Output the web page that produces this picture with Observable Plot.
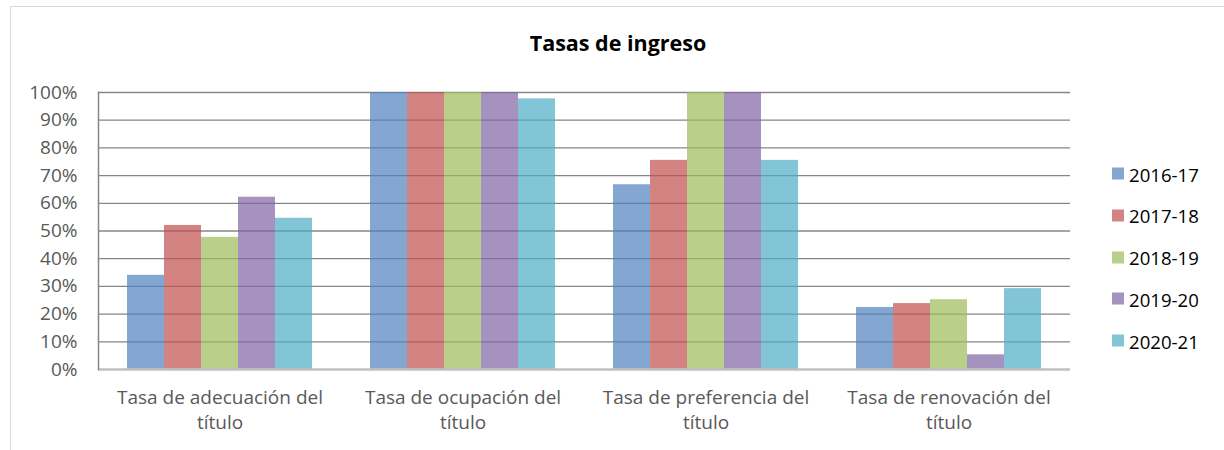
<!DOCTYPE html>
<html><head><meta charset="utf-8">
<script src="https://cdn.jsdelivr.net/npm/d3@7"></script>
<script src="https://cdn.jsdelivr.net/npm/@observablehq/plot@0.6"></script>
<style>
body{margin:0;background:#fff;font-family:"Open Sans",sans-serif}
#wrap{position:relative;width:1224px;height:450px;overflow:hidden;background:#fff}
#border{position:absolute;left:10px;top:6px;width:1300px;height:500px;border:1.5px solid #d9d9d9;box-sizing:border-box}
#chart{position:absolute;left:0;top:0}
#title{position:absolute;top:28px;left:0;width:1236px;text-align:center;font-weight:700;font-size:21.5px;color:#000}
#legend{position:absolute;left:1112px;top:0}
.item{position:absolute;left:0;display:flex;align-items:center;white-space:nowrap;font-size:18.6px;color:#000;transform:translateY(-50%)}
.sw{width:12px;height:12px;margin-right:5px;flex:none}
</style>
</head><body>
<div id="wrap"><div id="border"></div><div id="chart"></div><div id="title">Tasas de ingreso</div><div id="legend"></div></div>
<script>
const categories = ["Tasa de adecuación del título","Tasa de ocupación del título","Tasa de preferencia del título","Tasa de renovación del título"];
const catLabels = ["Tasa de adecuación del\ntítulo","Tasa de ocupación del\ntítulo","Tasa de preferencia del\ntítulo","Tasa de renovación del\ntítulo"];
const years = ["2016-17","2017-18","2018-19","2019-20","2020-21"];
const adecuacion = [0.340, 0.520, 0.477, 0.622, 0.546];
const ocupacion = [1.000, 1.000, 1.000, 1.000, 0.977];
const preferencia = [0.667, 0.755, 1.000, 1.000, 0.755];
const renovacion = [0.224, 0.238, 0.252, 0.053, 0.292];
const colors = ["#4F81BD","#C0504D","#9BBB59","#8064A2","#4BACC6"];
const yTicks = [0,0.1,0.2,0.3,0.4,0.5,0.6,0.7,0.8,0.9,1];

const series = [adecuacion, ocupacion, preferencia, renovacion];
const data = categories.flatMap((c,i)=>years.map((y,j)=>({cat:c, year:y, value:series[i][j]})));

const chart = Plot.plot({
  width:1224, height:450,
  marginLeft:97, marginRight:154, marginTop:92, marginBottom:81,
  style:{fontFamily:"Open Sans", fontSize:"19px", color:"#595959", background:"transparent"},
  fx:{domain:categories, padding:0},
  x:{domain:years, paddingInner:0, paddingOuter:0.75, axis:null},
  y:{domain:[0,1]},
  color:{domain:years, range:colors},
  marks:[
    Plot.ruleY(yTicks.filter(t=>t>0), {stroke:"#868686", strokeWidth:1.3}),
    Plot.barY(data, {fx:"cat", x:"year", y:"value", fill:"year", fillOpacity:0.7}),
    Plot.ruleY([0], {stroke:"#c0c0c0", strokeWidth:2.5}),
    Plot.frame({anchor:"left", facetAnchor:"left", stroke:"#868686", strokeWidth:1.5}),
    Plot.axisY({ticks:yTicks, tickFormat:d3.format(".0%"), tickSize:0, tickPadding:21, fill:"#595959", fontSize:19, label:null}),
    Plot.axisFx({anchor:"bottom", tickSize:0, tickPadding:16, tickFormat:(d)=>catLabels[categories.indexOf(d)], lineHeight:1.35, fill:"#595959", fontSize:19, label:null})
  ]
});
document.getElementById("chart").appendChild(chart);

const legend = document.getElementById("legend");
years.forEach((y,i)=>{
  const it = document.createElement("div");
  it.className = "item";
  it.style.top = (173.5 + i*41.8) + "px";
  const sw = document.createElement("div");
  sw.className = "sw";
  sw.style.background = colors[i];
  sw.style.opacity = 0.7;
  const t = document.createElement("span");
  t.textContent = y;
  it.appendChild(sw); it.appendChild(t);
  legend.appendChild(it);
});
</script>
</body></html>
